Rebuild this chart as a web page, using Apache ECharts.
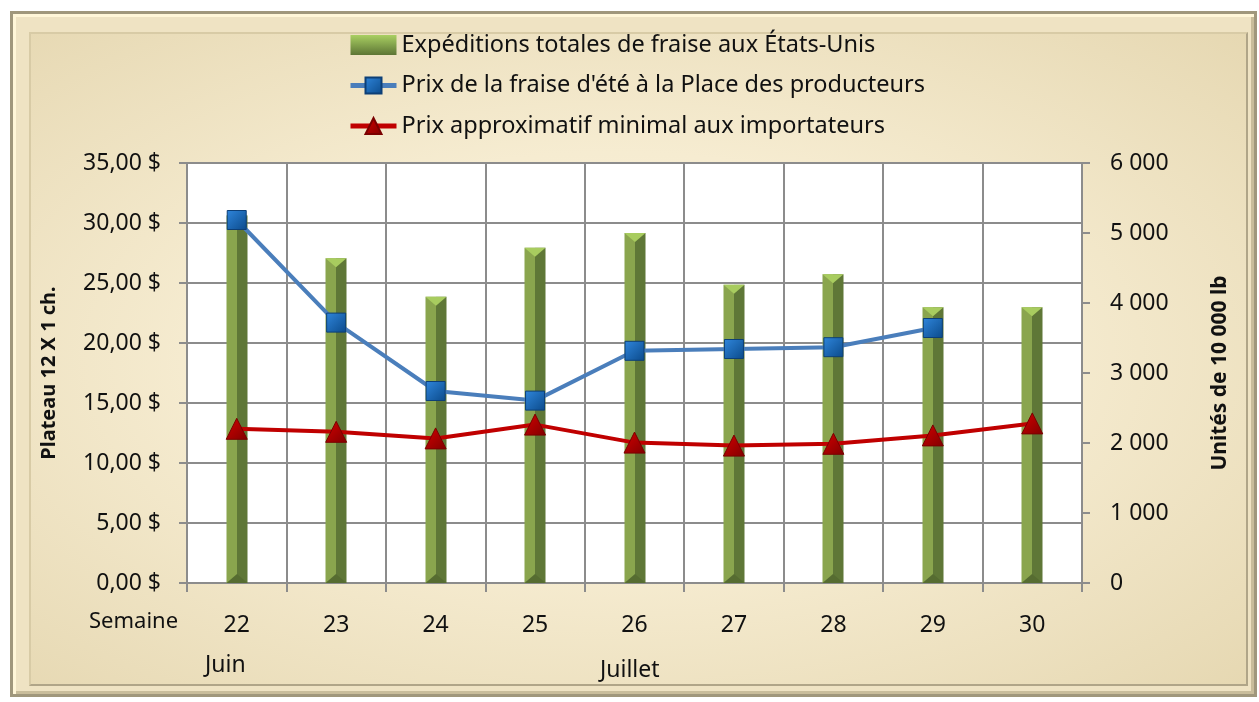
<!DOCTYPE html>
<html>
<head>
<meta charset="utf-8">
<script src="https://cdn.jsdelivr.net/npm/echarts@6/dist/echarts.min.js"></script>
<style>
  html, body { margin: 0; padding: 0; background: #fff; }
  #frame {
    position: absolute; left: 10px; top: 11px; width: 1247px; height: 686px;
    box-sizing: border-box; border: 3px solid #a0977c;
    background: #efe3c3;
    box-shadow: inset 3px 3px 0 #fff6d8, inset -3px -3px 0 #c9bd9b;
  }
  #inner {
    position: absolute; left: 16px; top: 18px; right: 6px; bottom: 8px;
    border-top: 2px solid #d8cba6; border-left: 2px solid #d8cba6;
    border-right: 2px solid #b0a588; border-bottom: 2px solid #b0a588;
    background: radial-gradient(ellipse at 48% 50%, #fcf5de 0%, #f6ecd1 45%, #e6d8b2 100%);
  }
  #chart { position: absolute; left: 0; top: 0; width: 1259px; height: 702px; }
</style>
</head>
<body>
<div id="frame"><div id="inner"></div></div>
<div id="chart"></div>
<script>
// semaines 22 à 30
const weeks = ["22", "23", "24", "25", "26", "27", "28", "29", "30"];
// expéditions totales (unités de 10 000 lb)
const shipments = [5250, 4640, 4090, 4790, 5000, 4260, 4410, 3940, 3940];
// prix à la Place des producteurs ($ / plateau)
const growerPrice = [30.25, 21.7, 16.0, 15.2, 19.35, 19.5, 19.65, 21.25, null];
// prix approximatif minimal aux importateurs
const importPrice = [12.85, 12.6, 12.05, 13.2, 11.7, 11.45, 11.6, 12.3, 13.3];

const seriesNames = [
  "Expéditions totales de fraise aux États-Unis",
  "Prix de la fraise d'été à la Place des producteurs",
  "Prix approximatif minimal aux importateurs"
];

const FONT = "Noto Sans";
const chart = echarts.init(document.getElementById("chart"), null, { renderer: "canvas" });

const renderBar = (params, api) => {
  const top = api.coord([api.value(0), api.value(1)]);
  const base = api.coord([api.value(0), 0]);
  const w = 21;
  const cx = Math.round(top[0]);
  const l = cx - w / 2, r = cx + w / 2;
  const cap = 9;
  return {
    type: "group",
    children: [
      { type: "rect", shape: { x: l, y: top[1], width: w / 2, height: base[1] - top[1] }, style: { fill: "#8aa54e" } },
      { type: "rect", shape: { x: cx, y: top[1], width: w / 2, height: base[1] - top[1] }, style: { fill: "#5f7737" } },
      { type: "polygon", shape: { points: [[l, top[1]], [r, top[1]], [cx, top[1] + cap]] }, style: { fill: "#a8cc5f" } },
      { type: "polygon", shape: { points: [[l, base[1]], [r, base[1]], [cx, base[1] - cap]] }, style: { fill: "#566c31" } }
    ]
  };
};

const option = {
  animation: false,
  backgroundColor: "transparent",
  textStyle: { fontFamily: FONT },
  legend: {
    orient: "vertical",
    left: 343,
    top: 28,
    itemWidth: 46,
    itemHeight: 20,
    itemGap: 16.5,
    textStyle: { fontFamily: FONT, fontSize: 23.5, color: "#111" },
    data: [
      {
        name: seriesNames[0], icon: "rect",
        itemStyle: {
          color: new echarts.graphic.LinearGradient(0, 0, 0, 1, [
            { offset: 0, color: "#a9cf62" }, { offset: 1, color: "#5d7535" }
          ])
        }
      },
      { name: seriesNames[1], lineStyle: { width: 5 } },
      { name: seriesNames[2], lineStyle: { width: 5 } }
    ]
  },
  grid: { left: 187, right: 177, top: 163, bottom: 119, show: true, backgroundColor: "#ffffff", borderWidth: 0 },
  xAxis: {
    type: "category",
    data: weeks,
    boundaryGap: true,
    axisLine: { lineStyle: { color: "#8c8c8c", width: 2 } },
    axisTick: { show: true, length: 9, lineStyle: { color: "#8c8c8c", width: 2 } },
    splitLine: { show: true, lineStyle: { color: "#8c8c8c", width: 2 } },
    axisLabel: { fontFamily: FONT, fontSize: 23, color: "#111", margin: 31 }
  },
  yAxis: [
    {
      type: "value",
      min: 0, max: 35, interval: 5,
      name: "Plateau 12 X 1 ch.",
      nameLocation: "middle",
      nameRotate: 90,
      nameGap: 128,
      nameTextStyle: { fontFamily: FONT, fontSize: 20, fontWeight: "bold", color: "#111" },
      axisLine: { show: true, lineStyle: { color: "#8c8c8c", width: 2 } },
      axisTick: { show: true, length: 8, lineStyle: { color: "#8c8c8c", width: 2 } },
      splitLine: { show: true, lineStyle: { color: "#8c8c8c", width: 2 } },
      axisLabel: {
        fontFamily: FONT, fontSize: 23, color: "#111", margin: 26,
        formatter: v => v.toFixed(2).replace(".", ",") + " $"
      }
    },
    {
      type: "value",
      min: 0, max: 6000, interval: 1000,
      name: "Unités de 10 000 lb",
      nameLocation: "middle",
      nameRotate: 90,
      nameGap: 128,
      nameTextStyle: { fontFamily: FONT, fontSize: 21, fontWeight: "bold", color: "#111" },
      axisLine: { show: true, lineStyle: { color: "#8c8c8c", width: 2 } },
      axisTick: { show: true, length: 8, lineStyle: { color: "#8c8c8c", width: 2 } },
      splitLine: { show: false },
      axisLabel: {
        fontFamily: FONT, fontSize: 23, color: "#111", margin: 28,
        formatter: v => v >= 1000 ? Math.floor(v / 1000) + " 000" : String(v)
      }
    }
  ],
  graphic: [
    { type: "text", left: 89, top: 611, style: { text: "Semaine", font: "22px " + FONT, fill: "#111" } },
    { type: "text", left: 205, top: 654, style: { text: "Juin", font: "23px " + FONT, fill: "#111" } },
    { type: "text", left: 600, top: 659, style: { text: "Juillet", font: "23px " + FONT, fill: "#111" } }
  ],
  series: [
    {
      name: seriesNames[0],
      type: "custom",
      yAxisIndex: 1,
      renderItem: renderBar,
      encode: { x: 0, y: 1 },
      itemStyle: { color: "#7a9644" },
      data: shipments.map((v, i) => [i, v]),
      z: 2
    },
    {
      name: seriesNames[1],
      type: "line",
      yAxisIndex: 0,
      data: growerPrice,
      symbol: "rect",
      symbolSize: 19,
      lineStyle: { color: "#4a7ebb", width: 4 },
      itemStyle: {
        color: new echarts.graphic.LinearGradient(0, 0, 1, 1, [
          { offset: 0, color: "#2f86dc" }, { offset: 1, color: "#0b4a8a" }
        ]),
        borderColor: "#0d3f76", borderWidth: 1
      },
      z: 4
    },
    {
      name: seriesNames[2],
      type: "line",
      yAxisIndex: 0,
      data: importPrice,
      symbol: "triangle",
      symbolSize: 21,
      lineStyle: { color: "#c00000", width: 4 },
      itemStyle: {
        color: new echarts.graphic.LinearGradient(0, 0, 1, 1, [
          { offset: 0, color: "#d40000" }, { offset: 1, color: "#800000" }
        ]),
        borderColor: "#7a0000", borderWidth: 1
      },
      z: 5
    }
  ]
};

chart.setOption(option);
</script>
</body>
</html>
